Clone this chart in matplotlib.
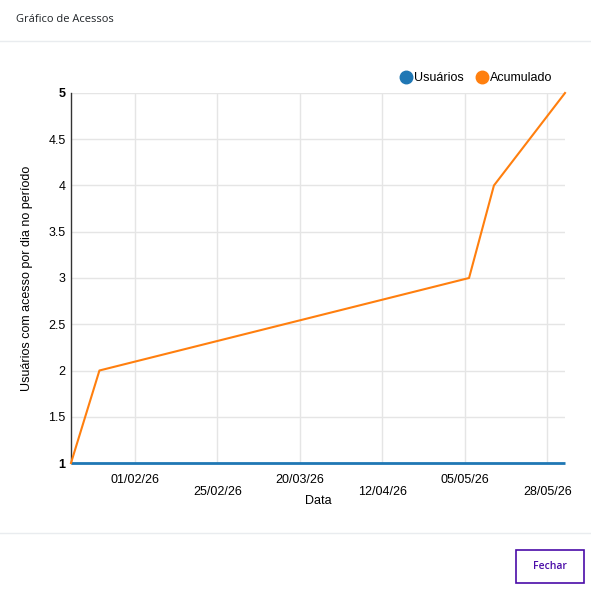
import numpy as np
import matplotlib
matplotlib.use("Agg")
import matplotlib.pyplot as plt
import matplotlib.dates as mdates
from matplotlib.lines import Line2D
from matplotlib.patches import Rectangle

# Dados do gráfico
datas = np.array(['2026-01-14', '2026-01-22', '2026-05-06', '2026-05-13', '2026-06-02'], dtype='datetime64[D]')
usuarios = [1, 1, 1, 1, 1]
acumulado = [1, 2, 3, 4, 5]
rotulos_x = ['01/02/26', '25/02/26', '20/03/26', '12/04/26', '05/05/26', '28/05/26']
ticks_y = [1, 1.5, 2, 2.5, 3, 3.5, 4, 4.5, 5]

W, H = 591, 589
fig = plt.figure(figsize=(W / 100, H / 100), dpi=100)
fig.patch.set_facecolor('white')

# Eixos
ax = fig.add_axes([71 / W, 1 - 463 / H, (565 - 71) / W, (463 - 93) / H])
ax.plot(datas, usuarios, color='#1f77b4', lw=2, solid_capstyle='butt', zorder=3, clip_on=False)
ax.plot(datas, acumulado, color='#ff7f0e', lw=1.5, zorder=4, clip_on=False)

ax.set_xlim(datas[0], datas[-1])
ax.set_ylim(1, 5)

# Ticks do eixo x, espaçados igualmente entre a primeira e a última data
t0 = mdates.date2num(np.datetime64('2026-02-01'))
t1 = mdates.date2num(np.datetime64('2026-05-28'))
pos = np.linspace(t0, t1, len(rotulos_x))
ax.set_xticks(pos)
ax.set_xticklabels(rotulos_x)
for i, lab in enumerate(ax.get_xticklabels()):
    if i % 2 == 1:
        lab.set_y(-0.032)
ax.set_yticks(ticks_y)
ax.set_yticklabels([('%g' % v) for v in ticks_y])
for lab in ax.get_yticklabels():
    if lab.get_text() in ('1', '5'):
        lab.set_fontweight('bold')

ax.tick_params(axis='both', length=0, labelsize=9, labelcolor='#000000')
ax.tick_params(axis='x', pad=8)
ax.tick_params(axis='y', pad=4)
for lab in ax.get_xticklabels() + ax.get_yticklabels():
    lab.set_family('Liberation Sans')

ax.grid(True, color='#e5e5e5', lw=1)
ax.set_axisbelow(True)
for s in ['top', 'right', 'bottom']:
    ax.spines[s].set_visible(False)
ax.spines['left'].set_color('#333333')
ax.spines['left'].set_linewidth(1)

ax.set_xlabel('Data', fontsize=9, family='Liberation Sans', labelpad=-2)
ax.set_ylabel('Usuários com acesso por dia no período', fontsize=9, family='Liberation Sans', labelpad=11)

# Legenda
handles = [Line2D([], [], marker='o', ls='none', color='#1f77b4', markersize=9),
           Line2D([], [], marker='o', ls='none', color='#ff7f0e', markersize=9)]
fig.legend(handles, ['Usuários', 'Acumulado'], loc='center right', ncol=2,
           bbox_to_anchor=(559 / W, 1 - 78 / H), frameon=False,
           prop={'family': 'Liberation Sans', 'size': 9},
           handletextpad=-0.1, columnspacing=0.75, handlelength=1.5, borderpad=0)

# Cabeçalho e rodapé do modal
fig.text(16 / W, 1 - 20 / H, 'Gráfico de Acessos', fontsize=8, family='Open Sans',
         color='#212529', va='center', ha='left')
fig.add_artist(Line2D([0, 1], [1 - 41 / H, 1 - 41 / H], transform=fig.transFigure, color='#e9ecef', lw=1))
fig.add_artist(Line2D([0, 1], [1 - 533 / H, 1 - 533 / H], transform=fig.transFigure, color='#e9ecef', lw=1))
fig.add_artist(Rectangle((516 / W, 1 - 583 / H), 68 / W, 33 / H, transform=fig.transFigure,
                         facecolor='white', edgecolor='#4a0ca8', lw=1.2))
fig.text(550 / W, 1 - 566.5 / H, 'Fechar', fontsize=7.5, family='Open Sans', fontweight='semibold',
         color='#4a0ca8', va='center', ha='center')

fig.savefig('out.png', dpi=100)
